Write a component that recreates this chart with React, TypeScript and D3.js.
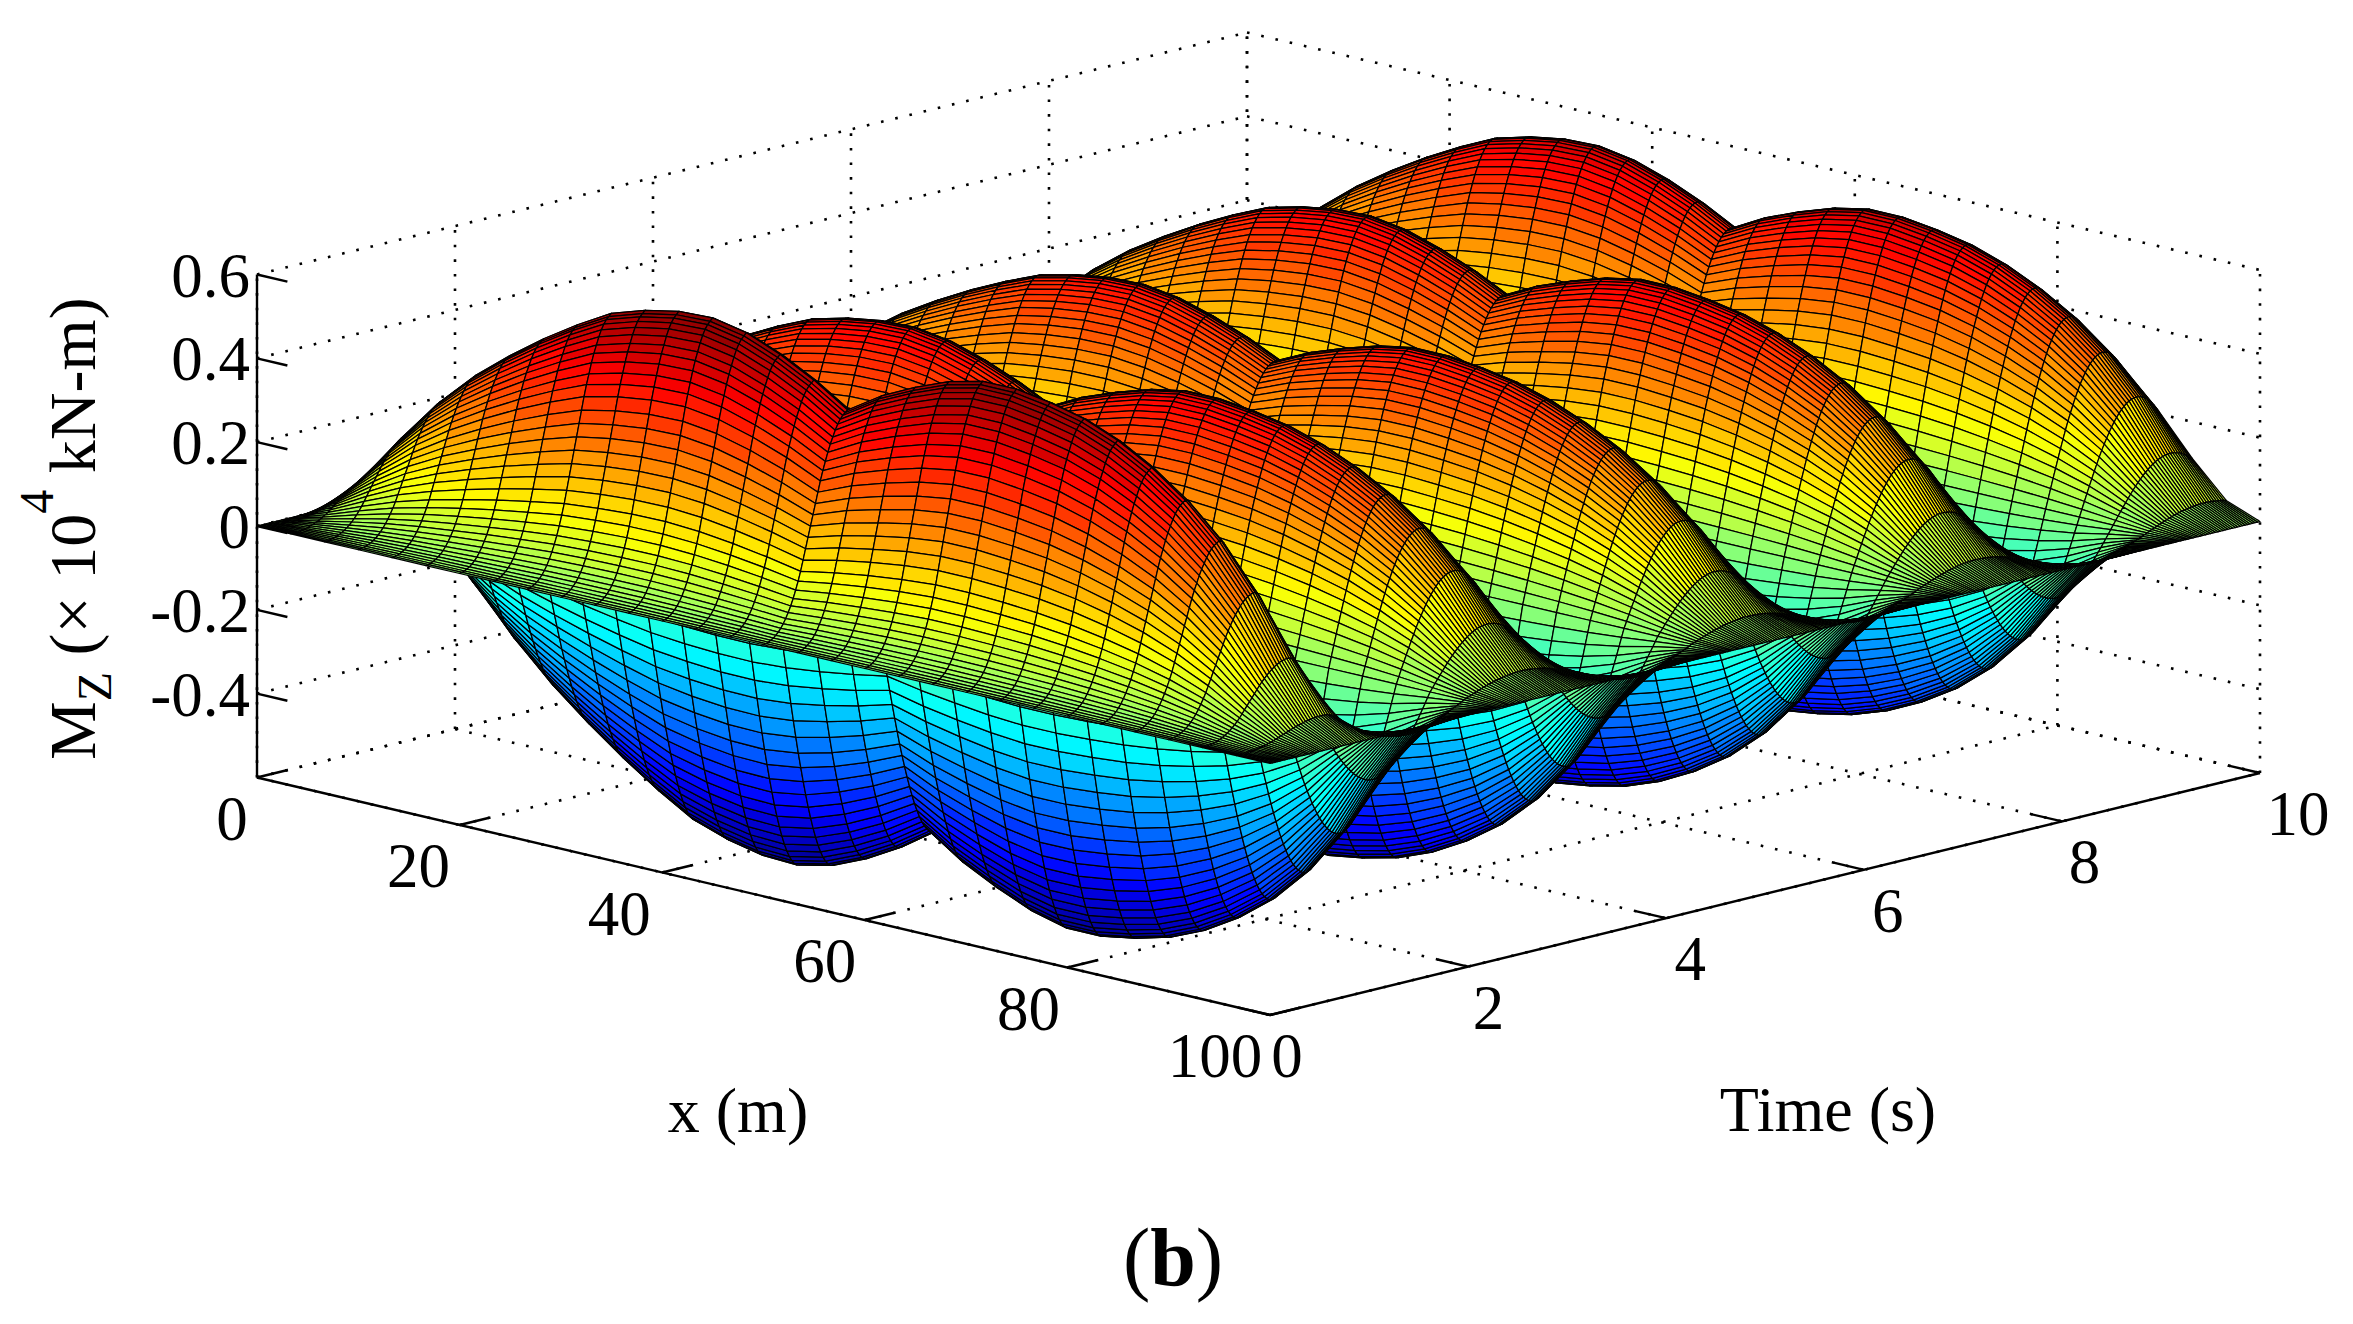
import React, { useMemo } from "react";
import * as d3 from "d3";

const width = 2353;
const height = 1324;

// The mesh has 12000 cells, so not every cell is read off the picture. What is read
// off is the profiles below, and each mesh value is xShape * timeHistory: an estimate,
// and it assumes the surface separates into a span shape and a time history.

// bending moment along the span, normalised, estimated at every mesh column (0..100 m)
const xShape = [
  0, 0.15, 0.32, 0.47, 0.59, 0.69, 0.78, 0.86, 0.93, 0.97, 0.995, 1, 0.975, 0.925, 0.86, 0.78,
  0.86, 0.92, 0.97, 1, 1, 0.98, 0.95, 0.9, 0.83, 0.74, 0.62, 0.46, 0.25, 0.07, 0,
];
// first half cycle in time, one value per mesh row
const firstLobe = [
  0, 0.002, 0.006, 0.012, 0.02, 0.03, 0.042, 0.057, 0.075, 0.097, 0.122, 0.15, 0.182, 0.218, 0.257, 0.3,
  0.35, 0.4, 0.45, 0.5, 0.55, 0.6, 0.65, 0.7, 0.745, 0.785, 0.825, 0.86, 0.89, 0.92, 0.945, 0.965,
  0.98, 0.99, 1, 0.995, 0.98, 0.95, 0.905, 0.845, 0.77, 0.67, 0.55, 0.42, 0.28, 0.14, 0,
];
// later half cycles, all given the same shape
const laterLobe = [
  0, 0.068, 0.136, 0.204, 0.269, 0.334, 0.398, 0.46, 0.52, 0.578, 0.631, 0.682, 0.73, 0.775, 0.816, 0.854,
  0.887, 0.917, 0.942, 0.963, 0.979, 0.991, 0.998, 1, 0.998, 0.991, 0.979, 0.963, 0.942, 0.917, 0.887,
  0.854, 0.816, 0.775, 0.73, 0.682, 0.631, 0.578, 0.52, 0.46, 0.398, 0.334, 0.269, 0.204, 0.136, 0.068, 0,
];
// peak of each half cycle, x 10^4 kN-m
const lobePeaks = [0.655, -0.7, 0.515, -0.64, 0.485, -0.6, 0.515, -0.56, 0.55];

const xTicks = [0, 20, 40, 60, 80, 100];
const timeTicks = [0, 2, 4, 6, 8, 10];
const zTicks = [-0.4, -0.2, 0, 0.2, 0.4, 0.6];
const zGrid = [-0.6, -0.4, -0.2, 0, 0.2, 0.4, 0.6];
const zTickLabels = ["-0.4", "-0.2", "0", "0.2", "0.4", "0.6"];

// hand nudges, the labels in the picture are not evenly spaced
const xLabelNudge = [0, -10, -6, 3, 10, 0];
const timeLabelNudge = [0, 0, 0, -4, -9, 3];

const xStep = 100 / 30;
const rowsPerLobe = 46;
const rowCount = 401;
const timeStep = 0.025;

const xs = xShape.map((_, i) => i * xStep);
const timeHistory = d3.range(rowCount).map((k) => {
  const lobe = Math.floor(k / rowsPerLobe);
  const shape = lobe === 0 ? firstLobe : laterLobe;
  return lobePeaks[lobe] * shape[k - lobe * rowsPerLobe];
});

// oblique projection of the box, taken from its corners
const xPx = d3.scaleLinear().domain([0, 100]).range([257, 1270]);
const xDrop = d3.scaleLinear().domain([0, 100]).range([0, 237.5]);
const tPx = d3.scaleLinear().domain([0, 10]).range([0, 990]);
const tDrop = d3.scaleLinear().domain([0, 10]).range([0, -242]);
const zPx = d3.scaleLinear().domain([-0.6, 0.6]).range([777.5, 274.5]);

const project = (x: number, t: number, z: number): [number, number] => [
  xPx(x) + tPx(t),
  zPx(z) + xDrop(x) + tDrop(t),
];

// jet over the colour limits of the surface, 64 levels
const colorMin = -0.7;
const colorMax = 0.66;
const jetRamp = d3
  .scaleLinear<string>()
  .domain([0, 0.125, 0.375, 0.625, 0.875, 1])
  .range(["#00008f", "#0000ff", "#00ffff", "#ffff00", "#ff0000", "#800000"]);
const jet = d3
  .scaleQuantize<string>()
  .domain([colorMin, colorMax])
  .range(d3.range(64).map((i) => jetRamp((i + 0.5) / 64)));

const line = d3.line();
const seg = (a: [number, number], b: [number, number]) => line([a, b]) as string;

const serif = "'Liberation Serif', 'Times New Roman', serif";

function Surface() {
  const cells = useMemo(() => {
    const out: { d: string; fill: string }[] = [];
    // far rows first, so nearer cells paint over them
    for (let k = rowCount - 2; k >= 0; k--) {
      const t0 = k * timeStep;
      const t1 = (k + 1) * timeStep;
      for (let i = 0; i < xs.length - 1; i++) {
        const z00 = xShape[i] * timeHistory[k];
        const z10 = xShape[i + 1] * timeHistory[k];
        const z01 = xShape[i] * timeHistory[k + 1];
        const z11 = xShape[i + 1] * timeHistory[k + 1];
        const d =
          line([
            project(xs[i], t0, z00),
            project(xs[i + 1], t0, z10),
            project(xs[i + 1], t1, z11),
            project(xs[i], t1, z01),
          ]) + "Z";
        out.push({ d, fill: jet((z00 + z10 + z01 + z11) / 4) });
      }
    }
    return out;
  }, []);
  return (
    <g stroke="#000" strokeWidth={1.25} strokeLinejoin="round">
      {cells.map((c, i) => (
        <path key={i} d={c.d} fill={c.fill} />
      ))}
    </g>
  );
}

function Grid() {
  const paths: string[] = [];
  zGrid.forEach((z) => {
    paths.push(seg(project(0, 0, z), project(0, 10, z)));
    paths.push(seg(project(0, 10, z), project(100, 10, z)));
  });
  xTicks.forEach((x) => {
    paths.push(seg(project(x, 0, -0.6), project(x, 10, -0.6)));
    paths.push(seg(project(x, 10, -0.6), project(x, 10, 0.6)));
  });
  timeTicks.forEach((t) => {
    paths.push(seg(project(0, t, -0.6), project(100, t, -0.6)));
    paths.push(seg(project(0, t, -0.6), project(0, t, 0.6)));
  });
  return (
    <g fill="none" stroke="#000" strokeWidth={2.6} strokeDasharray="2.6 12">
      {paths.map((d, i) => (
        <path key={i} d={d} />
      ))}
    </g>
  );
}

function Axes() {
  const solid = [
    seg(project(0, 0, -0.6), project(100, 0, -0.6)),
    seg(project(100, 0, -0.6), project(100, 10, -0.6)),
    seg(project(0, 0, -0.6), project(0, 0, 0.6)),
    ...zTicks.map((z) => seg(project(0, 0, z), project(3, 0, z))),
    ...xTicks.map((x) => seg(project(x, 0, -0.6), project(x, 0.3, -0.6))),
    ...timeTicks.map((t) => seg(project(100, t, -0.6), project(97, t, -0.6))),
  ];
  return (
    <g>
      <g fill="none" stroke="#000" strokeWidth={2.4}>
        {solid.map((d, i) => (
          <path key={i} d={d} />
        ))}
      </g>
      <g fontFamily={serif} fontSize={63} fill="#000">
        {zTicks.map((z, i) => (
          <text key={z} x={250} y={zPx(z) + 22} textAnchor="end">
            {zTickLabels[i]}
          </text>
        ))}
        {xTicks.map((x, i) => {
          const [px, py] = project(x, 0, -0.6);
          return (
            <text key={x} x={px - 25 - 0.3 * x + xLabelNudge[i]} y={py + 62} textAnchor="middle">
              {x}
            </text>
          );
        })}
        {timeTicks.map((t, i) => {
          const [px, py] = project(100, t, -0.6);
          return (
            <text key={t} x={px + 17 + 1.8 * t + timeLabelNudge[i]} y={py + 62} textAnchor="middle">
              {t}
            </text>
          );
        })}
        <text x={738} y={1132} textAnchor="middle" fontSize={64}>
          x (m)
        </text>
        <text x={1828} y={1131} textAnchor="middle" fontSize={64}>
          Time (s)
        </text>
        <text transform="translate(95,760) rotate(-90)" fontSize={66}>
          M
          <tspan fontSize={48} dy={16}>
            Z
          </tspan>
          <tspan dy={-16}> (× 10</tspan>
          <tspan fontSize={48} dy={-42}>
            4
          </tspan>
          <tspan dy={42}> kN-m)</tspan>
        </text>
      </g>
      <text x={1173} y={1285} textAnchor="middle" fontFamily={serif} fontSize={82}>
        (<tspan fontWeight="bold">b</tspan>)
      </text>
    </g>
  );
}

export default function App() {
  return (
    <svg
      width={width}
      height={height}
      style={{ position: "absolute", left: 0, top: 0, display: "block", background: "#fff" }}
    >
      <Grid />
      <Surface />
      <Axes />
    </svg>
  );
}
